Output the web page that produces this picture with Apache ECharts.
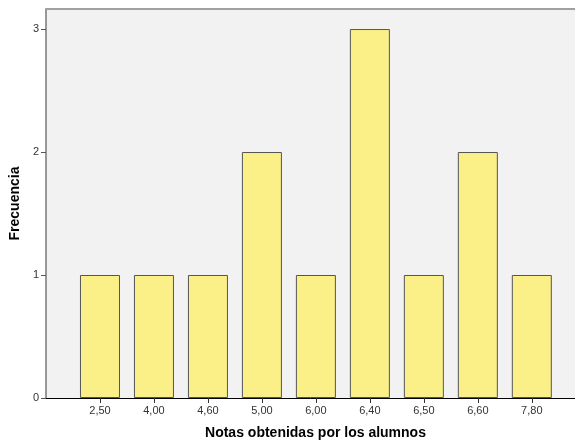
<!DOCTYPE html>
<html><head><meta charset="utf-8">
<script src="https://cdn.jsdelivr.net/npm/echarts@6/dist/echarts.min.js"></script>
<style>html,body{margin:0;padding:0;background:#fff}#c{width:575px;height:441px}</style>
</head><body><div id="c"></div>
<script>
var categories = ['2,50','4,00','4,60','5,00','6,00','6,40','6,50','6,60','7,80'];
var frequencies = [1,1,1,2,1,3,1,2,1];
var yTicks = [0,1,2,3];

var positions = categories.map(function(c,i){return i+1;});
var barData = frequencies.map(function(v,i){return [positions[i], v];});

var chart = echarts.init(document.getElementById('c'));
chart.setOption({
  animation:false,
  grid:{left:46, right:0, top:9, bottom:43, outerBoundsMode:'none', containLabel:false, show:true, backgroundColor:'#f2f2f2', borderWidth:0},
  xAxis:[{
    type:'value', min:0, max:9.8, interval:1, position:'bottom',
    name:'Notas obtenidas por los alumnos', nameLocation:'middle', nameGap:28,
    nameTextStyle:{fontFamily:'Liberation Sans', fontWeight:'bold', fontSize:14, color:'#000', padding:[0,0,0,10]},
    axisLine:{show:true, lineStyle:{color:'#000', width:1}},
    axisTick:{show:true, length:5, customValues:positions, lineStyle:{color:'#333'}},
    axisLabel:{customValues:positions, margin:7, fontFamily:'Liberation Sans', fontSize:11, color:'#333',
      formatter:function(v){var i=Math.round(v)-1; return categories[i]||'';}},
    splitLine:{show:false}
  },{
    type:'value', min:0, max:9.8, position:'top',
    axisLine:{show:true, onZero:false, lineStyle:{color:'#a0a0a0', width:2}},
    axisTick:{show:false}, axisLabel:{show:false}, splitLine:{show:false}
  }],
  yAxis:{
    type:'value', min:0, max:3.163, interval:1,
    name:'Frecuencia', nameLocation:'middle', nameGap:19,
    nameTextStyle:{fontFamily:'Liberation Sans', fontWeight:'bold', fontSize:14, color:'#000'},
    axisLine:{show:true, lineStyle:{color:'#777', width:1.5}},
    axisTick:{show:true, length:5, customValues:yTicks, lineStyle:{color:'#555'}},
    axisLabel:{customValues:yTicks, margin:7, fontFamily:'Liberation Sans', fontSize:11, color:'#333'},
    splitLine:{show:false}
  },
  series:[{
    type:'bar', data:barData, barWidth:40, xAxisIndex:0,
    itemStyle:{color:'#fbf087', borderColor:'#555', borderWidth:1}
  }]
});
</script></body></html>
